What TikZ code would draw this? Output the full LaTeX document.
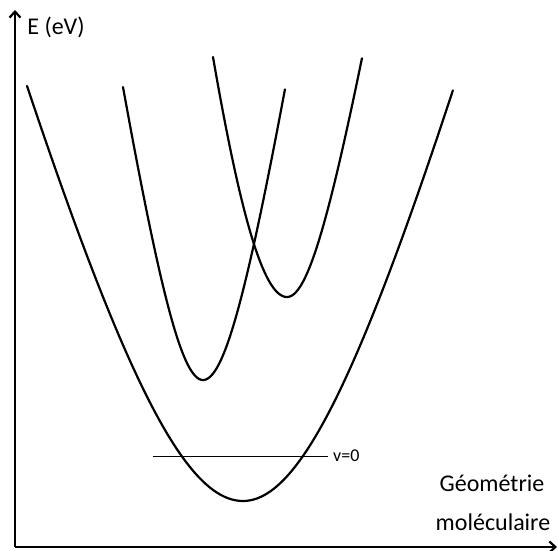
\documentclass[tikz,border=0pt]{standalone}
\usepackage{fontspec}
\setmainfont{Carlito}
\usetikzlibrary{arrows.meta}
\begin{document}
\begin{tikzpicture}[x=1pt,y=-1pt,
  axis/.style={line width=2.5pt,-{Straight Barb[length=6pt,width=11pt,line width=2.2pt]}},
  curve/.style={line width=2.2pt,line join=round,line cap=round},
  level/.style={line width=1pt},
  biglbl/.style={font=\fontsize{24}{28}\selectfont,inner sep=0pt},
  smalllbl/.style={font=\fontsize{18}{22}\selectfont,inner sep=0pt}]
\useasboundingbox (0,0) rectangle (558,551);
\coordinate (O) at (15,547);
\coordinate (Ytop) at (15,10);
\coordinate (Xend) at (557,547);
\draw[axis] (O) -- (Ytop);
\draw[axis] (O) -- (Xend);
% hyperbolic wells: x0, ymin, width, height, k
% ground state
\draw[curve] plot[domain=-1:0,samples=60,variable=\t] ({243+216*\t},{501-415*(sqrt(1+(1.5*\t)^2)-1)/(sqrt(1+1.5^2)-1)})
  -- plot[domain=0:1,samples=60,variable=\t] ({243+210*\t},{501-411*(sqrt(1+(1.5*\t)^2)-1)/(sqrt(1+1.5^2)-1)});
% second
\draw[curve] plot[domain=-1:0,samples=60,variable=\t] ({203+80*\t},{380-293*(sqrt(1+(1.7*\t)^2)-1)/(sqrt(1+1.7^2)-1)})
  -- plot[domain=0:1,samples=60,variable=\t] ({203+82*\t},{380-291*(sqrt(1+(1.7*\t)^2)-1)/(sqrt(1+1.7^2)-1)});
% third
\draw[curve] plot[domain=-1:0,samples=60,variable=\t] ({287+74*\t},{297-240*(sqrt(1+(0.8*\t)^2)-1)/(sqrt(1+0.8^2)-1)})
  -- plot[domain=0:1,samples=60,variable=\t] ({287+75*\t},{297-239*(sqrt(1+(1.6*\t)^2)-1)/(sqrt(1+1.6^2)-1)});
% v=0 level
\coordinate (v0a) at (153,456);
\node[smalllbl,anchor=west] (v0) at (333,456) {v=0};
\draw[level] (v0a) -- (328,456);
\node[biglbl] (ylbl) at (56,27) {E (eV)};
\node[biglbl] (xlbl1) at (492,483) {Géométrie};
\node[biglbl] (xlbl2) at (493,522) {moléculaire};
\end{tikzpicture}
\end{document}
